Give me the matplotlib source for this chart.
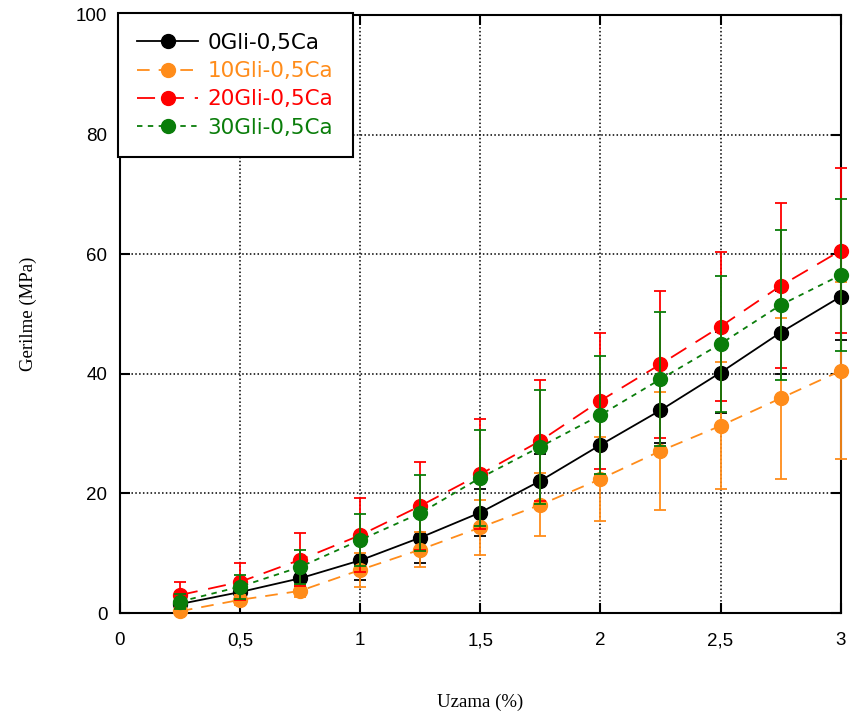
import matplotlib
matplotlib.use("Agg")
import matplotlib.pyplot as plt
from matplotlib.lines import Line2D

x = [0.25, 0.5, 0.75, 1.0, 1.25, 1.5, 1.75, 2.0, 2.25, 2.5, 2.75, 3.0]

y_0gli = [1.5, 3.5, 5.8, 8.8, 12.6, 16.8, 22.1, 28.1, 33.9, 40.2, 46.9, 52.9]
e_0gli = [0.4, 0.8, 1.2, 3.3, 4.2, 4.0, 4.5, 5.0, 5.5, 6.8, 7.0, 7.3]

y_10gli = [0.3, 2.2, 3.7, 7.2, 10.6, 14.3, 18.1, 22.4, 27.1, 31.3, 35.9, 40.5]
e_10gli = [0.5, 0.8, 1.0, 2.8, 2.9, 4.6, 5.3, 7.0, 9.8, 10.6, 13.5, 14.8]

y_20gli = [3.0, 5.2, 8.9, 13.0, 17.9, 23.2, 28.8, 35.5, 41.6, 47.9, 54.7, 60.6]
e_20gli = [2.2, 3.1, 4.4, 6.2, 7.4, 9.2, 10.1, 11.4, 12.3, 12.5, 13.8, 13.8]

y_30gli = [1.9, 4.4, 7.7, 12.2, 16.7, 22.6, 27.8, 33.1, 39.1, 45.0, 51.5, 56.5]
e_30gli = [1.2, 2.0, 2.9, 4.3, 6.4, 8.0, 9.5, 9.9, 11.2, 11.4, 12.5, 12.7]

labels = ["0Gli-0,5Ca", "10Gli-0,5Ca", "20Gli-0,5Ca", "30Gli-0,5Ca"]
colors = ["#000000", "#FF8C1A", "#FF0000", "#0A7D0A"]
styles = ["-", (0, (7, 5)), (0, (10, 6)), (0, (3, 3))]

xticks = [0, 0.5, 1, 1.5, 2, 2.5, 3]
xticklabels = ["0", "0,5", "1", "1,5", "2", "2,5", "3"]
yticks = [0, 20, 40, 60, 80, 100]

fig = plt.figure(figsize=(8.5, 7.24), dpi=100)
ax = fig.add_axes([0.141, 0.1533, 0.848, 0.826])

series = [(y_0gli, e_0gli), (y_10gli, e_10gli), (y_20gli, e_20gli), (y_30gli, e_30gli)]
order = [1, 2, 3, 0]
for i in order:
    yv, ev = series[i]
    ax.errorbar(x, yv, yerr=ev, color=colors[i], ecolor=colors[i],
                linestyle=styles[i], linewidth=1.3, marker="o", markersize=10,
                elinewidth=1.3, capsize=4, capthick=1.3, clip_on=False, zorder=3 + i)

ax.set_xlim(0, 3)
ax.set_ylim(0, 100)
ax.set_xticks(xticks)
ax.set_xticklabels(xticklabels)
ax.set_yticks(yticks)
ax.grid(True, color="black", linestyle=(0, (1, 1.5)), linewidth=1.1)
ax.set_axisbelow(True)
for s in ax.spines.values():
    s.set_linewidth(1.5)
ax.tick_params(direction="in", length=7, width=1.5, top=True, right=True,
               labelsize=13.5)
ax.tick_params(axis="y", pad=9)
ax.tick_params(axis="x", pad=14)
for lab in ax.get_xticklabels() + ax.get_yticklabels():
    lab.set_fontfamily("Liberation Sans")

ax.set_xlabel("Uzama (%)", fontfamily="Liberation Serif", fontsize=13.5, labelpad=32)
ax.set_ylabel("Gerilme (MPa)", fontfamily="Liberation Serif", fontsize=13.5, labelpad=28)

proxies = [Line2D([], [], color=colors[i], linestyle=styles[i], linewidth=1.3,
                  marker="o", markersize=10) for i in range(4)]
leg = ax.legend(proxies, labels, loc="upper left",
                bbox_to_anchor=(-0.003, 1.003), frameon=True, fancybox=False,
                edgecolor="black", framealpha=1, handlelength=2.8,
                prop={"family": "DejaVu Sans", "size": 15.5},
                borderpad=0.92, labelspacing=0.38, handletextpad=0.45,
                borderaxespad=0)
leg.get_frame().set_linewidth(1.5)
for t, c in zip(leg.get_texts(), colors):
    t.set_color(c)
leg.set_zorder(10)

fig.savefig("out.png", dpi=100)
